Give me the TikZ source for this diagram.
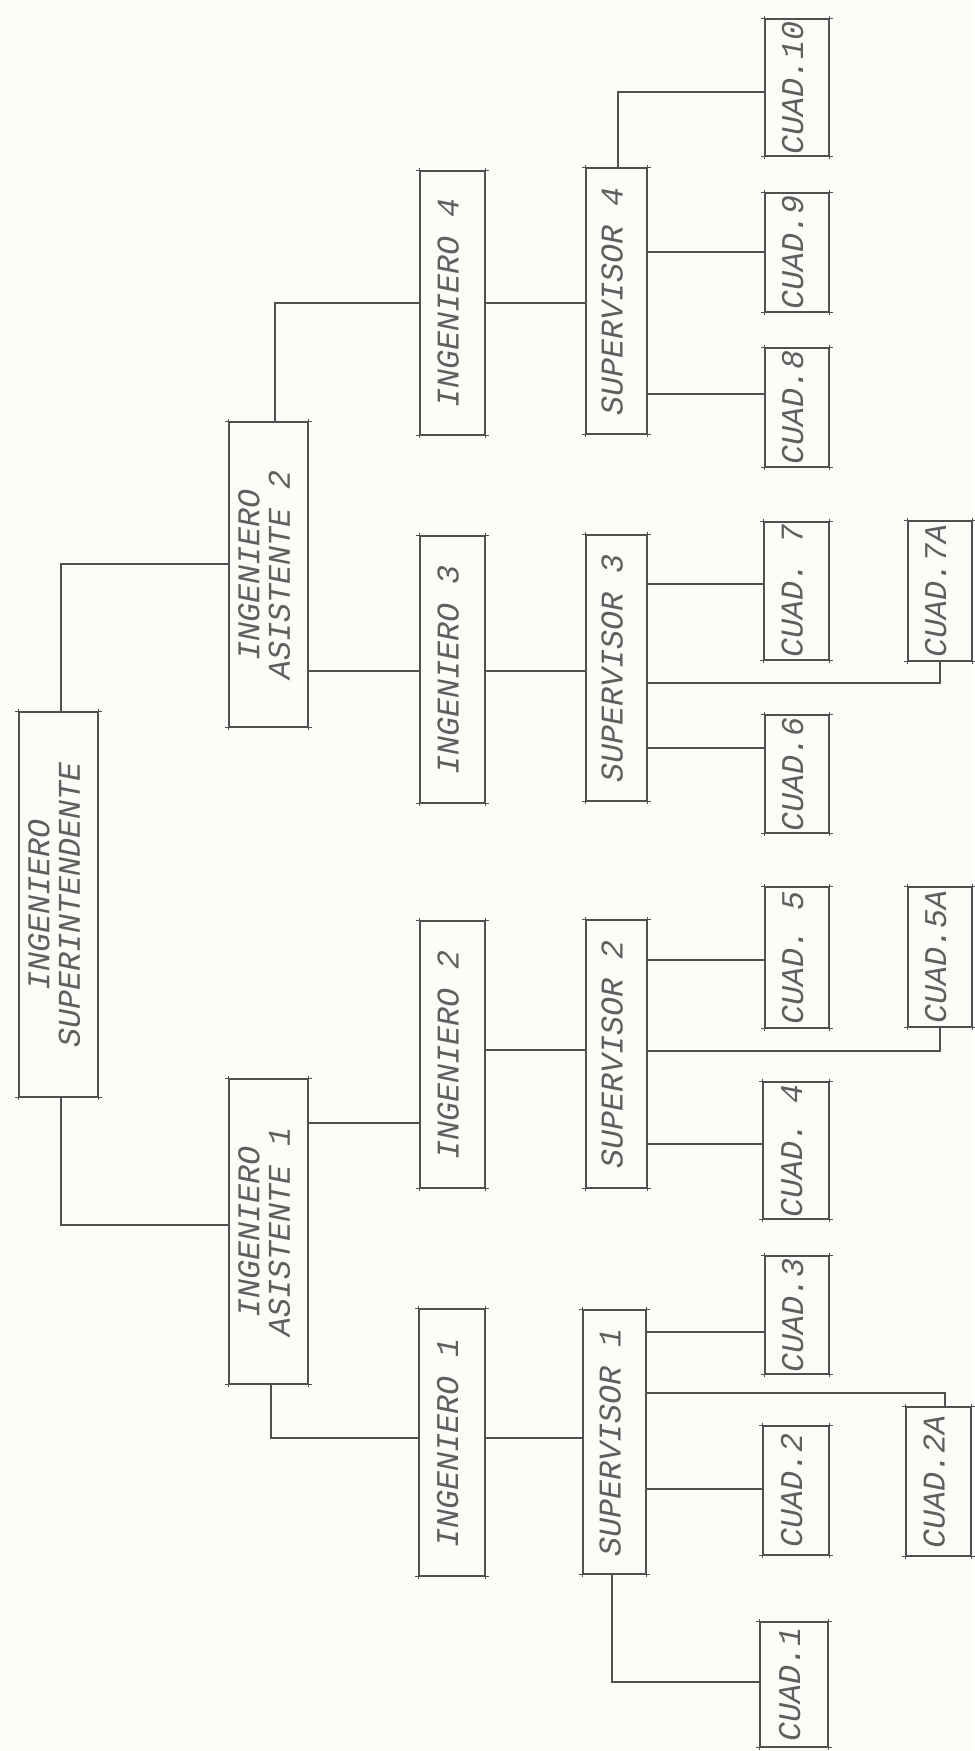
\documentclass[tikz,border=0pt]{standalone}
\usepackage{fontspec}
\usepackage{graphicx}
\newfontfamily\lett{Liberation Mono}
\definecolor{ink}{RGB}{80,80,80}
\definecolor{txt}{RGB}{95,95,95}
\definecolor{paper}{RGB}{253,252,248}
\newcommand\labt[1]{\rotatebox{90}{\lett\itshape\fontsize{23.75pt}{23pt}\selectfont\begin{tabular}{@{}c@{}}#1\end{tabular}}}
\newcommand\obox[6]{%
  \node[bx, minimum width={(#4-#2)*0.75pt}, minimum height={(#5-#3)*0.75pt}] (#1) at ({(#2+#4)/2},{(#3+#5)/2}) {\labt{#6}};
  \draw[tk] ([xshift=-2.5pt]#1.north west) -- ([xshift=2.5pt]#1.north east);
  \draw[tk] ([xshift=-2.5pt]#1.south west) -- ([xshift=2.5pt]#1.south east);
  \draw[tk] ([yshift=2pt]#1.north west) -- ([yshift=-2pt]#1.south west);
  \draw[tk] ([yshift=2pt]#1.north east) -- ([yshift=-2pt]#1.south east);
}
\tikzset{
  bx/.style={draw=ink, line width=1.1pt, rectangle, inner sep=0pt, text=txt},
  tk/.style={draw=ink, line width=1.1pt},
  conn/.style={draw=ink, line width=1.1pt},
}
\begin{document}
\begin{tikzpicture}[x={(0.75pt,0)}, y={(0,-0.75pt)}]
\fill[paper] (0,0) rectangle (974,1751);
\useasboundingbox (0,0) rectangle (974,1751);
% boxes
\obox{si}{19}{712}{98}{1097}{INGENIERO\\SUPERINTENDENTE}
\obox{a2}{229}{422}{308}{727}{INGENIERO\\ASISTENTE 2}
\obox{a1}{229}{1079}{308}{1384}{INGENIERO\\ASISTENTE 1}
\obox{i4}{420}{171}{485}{435}{INGENIERO 4}
\obox{i3}{420}{536}{485}{803}{INGENIERO 3}
\obox{i2}{420}{921}{485}{1188}{INGENIERO 2}
\obox{i1}{419}{1309}{485}{1576}{INGENIERO 1}
\obox{s4}{586}{168}{647}{434}{SUPERVISOR 4}
\obox{s3}{586}{535}{647}{801}{SUPERVISOR 3}
\obox{s2}{586}{920}{647}{1188}{SUPERVISOR 2}
\obox{s1}{583}{1310}{646}{1574}{SUPERVISOR 1}
\obox{c10}{765}{19}{829}{156}{CUAD.10}
\obox{c9}{765}{193}{829}{312}{CUAD.9}
\obox{c8}{765}{348}{829}{467}{CUAD.8}
\obox{c7}{764}{522}{829}{660}{CUAD. 7}
\obox{c6}{765}{715}{829}{833}{CUAD.6}
\obox{c5}{765}{887}{829}{1028}{CUAD. 5}
\obox{c4}{763}{1082}{829}{1219}{CUAD. 4}
\obox{c3}{765}{1256}{829}{1374}{CUAD.3}
\obox{c2}{763}{1426}{829}{1555}{CUAD.2}
\obox{c1}{760}{1622}{828}{1747}{CUAD.1}
\obox{c7a}{908}{521}{972}{661}{CUAD.7A}
\obox{c5a}{908}{887}{972}{1027}{CUAD.5A}
\obox{c2a}{906}{1407}{971}{1556}{CUAD.2A}
% connectors
\draw[conn] (si.north -| 61,0) |- (a2.west |- 0,564);
\draw[conn] (si.south -| 61,0) |- (a1.west |- 0,1225);
\draw[conn] (a2.north -| 275,0) |- (i4.west |- 0,303);
\draw[conn] (a2.east |- 0,671) -- (i3.west |- 0,671);
\draw[conn] (i3.east |- 0,671) -- (s3.west |- 0,671);
\draw[conn] (a1.east |- 0,1123) -- (i2.west |- 0,1123);
\draw[conn] (i2.east |- 0,1050) -- (s2.west |- 0,1050);
\draw[conn] (a1.south -| 271,0) |- (i1.west |- 0,1438);
\draw[conn] (i1.east |- 0,1438) -- (s1.west |- 0,1438);
\draw[conn] (i4.east |- 0,303) -- (s4.west |- 0,303);
\draw[conn] (s4.north -| 618,0) |- (c10.west |- 0,92);
\draw[conn] (s4.east |- 0,252) -- (c9.west |- 0,252);
\draw[conn] (s4.east |- 0,394) -- (c8.west |- 0,394);
\draw[conn] (s3.east |- 0,584) -- (c7.west |- 0,584);
\draw[conn] (s3.east |- 0,748) -- (c6.west |- 0,748);
\draw[conn] (s3.east |- 0,683) -| (c7a.south);
\draw[conn] (s2.east |- 0,960) -- (c5.west |- 0,960);
\draw[conn] (s2.east |- 0,1144) -- (c4.west |- 0,1144);
\draw[conn] (s2.east |- 0,1051) -| (c5a.south);
\draw[conn] (s1.east |- 0,1332) -- (c3.west |- 0,1332);
\draw[conn] (s1.east |- 0,1489) -- (c2.west |- 0,1489);
\draw[conn] (s1.east |- 0,1393) -| (c2a.north -| 945,0);
\draw[conn] (s1.south -| 612,0) |- (c1.west |- 0,1682);
\end{tikzpicture}
\end{document}
